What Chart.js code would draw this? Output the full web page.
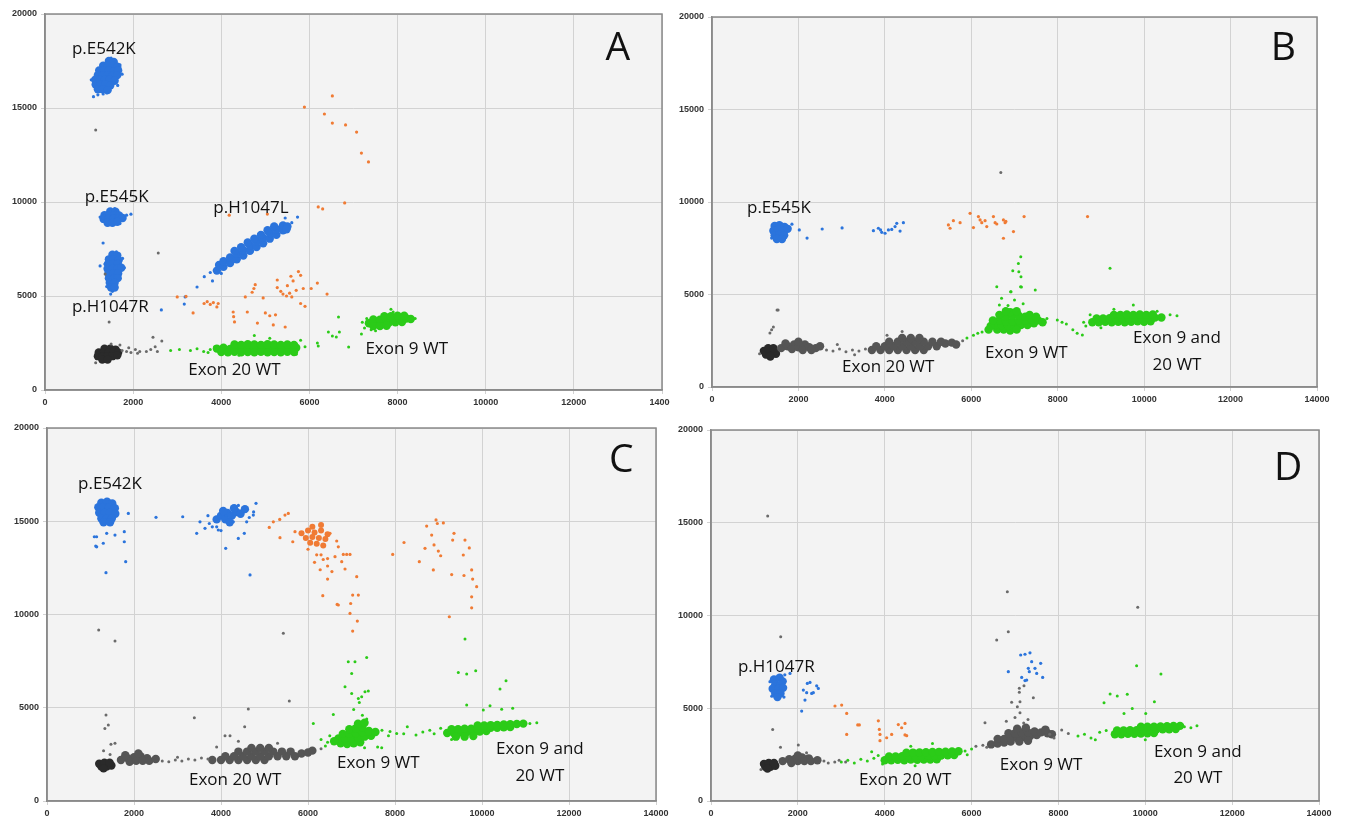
<!DOCTYPE html>
<html>
<head>
<meta charset="utf-8">
<script src="https://cdn.jsdelivr.net/npm/chart.js@4.4.1/dist/chart.umd.min.js"></script>
<style>
  body { margin: 0; background: #fff; }
  canvas { position: absolute; }
</style>
</head>
<body>
<canvas id="panelA" width="670" height="410" style="left:0;top:0"></canvas>
<canvas id="panelB" width="677" height="407" style="left:670px;top:0"></canvas>
<canvas id="panelC" width="670" height="406" style="left:0;top:415px"></canvas>
<canvas id="panelD" width="677" height="406" style="left:670px;top:415px"></canvas>
<script>
'use strict';

// axis ticks shared by all four panels
const xTicks = [0, 2000, 4000, 6000, 8000, 10000, 12000, 14000];
const yTicks = [0, 5000, 10000, 15000, 20000];

// ---------- panel A ----------
const aBlueCore = [
  [1450,17500],[1560,17450],[1320,17250],[1430,17250],[1540,17250],[1640,17200],[1230,17000],[1340,17000],[1450,17000],[1560,16950],[1660,17000],
  [1200,16750],[1310,16750],[1420,16750],[1530,16700],[1640,16750],[1140,16500],[1250,16500],[1360,16500],[1470,16500],[1580,16450],
  [1150,16250],[1260,16250],[1370,16250],[1480,16200],[1200,16000],[1310,16000],[1420,15950],
  [1480,9500],[1600,9480],[1350,9300],[1460,9300],[1570,9300],[1680,9280],[1330,9100],[1440,9100],[1550,9100],[1660,9100],[1760,9150],[1420,8900],[1530,8900],[1640,8950],
  [1530,7200],[1640,7150],[1450,6950],[1560,6950],[1670,6900],[1430,6700],[1540,6700],[1650,6700],[1420,6450],[1530,6450],[1640,6450],[1730,6500],
  [1440,6200],[1550,6200],[1660,6200],[1450,5950],[1560,5950],[1650,5950],[1470,5700],[1580,5700],[1500,5450],[1580,5450],
  [3900,6350],[3950,6650],[4050,6550],[4050,6850],[4200,6750],[4200,7050],[4350,6950],[4350,7250],[4300,7400],[4500,7150],[4500,7450],[4450,7600],
  [4650,7400],[4650,7700],[4600,7850],[4800,7600],[4800,7900],[4750,8050],[4950,7800],[4950,8100],[4900,8250],[5100,8050],[5100,8350],[5050,8500],
  [5250,8250],[5250,8550],[5200,8700],[5400,8500],[5400,8750],[5500,8700],[5480,8550]
];
const aBlue = [
  [1050,16500],[1750,16800],[1200,15700],[1400,15800],[1100,15600],[1700,17300],[1500,17650],[1320,15750],[1650,16200],
  [1250,9200],[1850,9300],[1950,9350],[1300,9000],[1700,8850],[1580,9650],
  [1318,7820],[1250,6600],[1490,5100],[1530,5250],[1760,7000],[1360,6700],[1800,6500],[1620,7350],[1400,5500],
  [3614,6030],[3450,5480],[3160,4570],[3180,4950],[2640,4260],[3800,5800],[5450,9150],[5730,9200],[5600,8900],[4000,6200],[3750,6250]
];
const aOrange = [
  [5886,15050],[6520,15640],[6340,14680],[6520,14200],[6820,14100],[7070,13720],[7180,12600],[7340,12130],[6800,9950],[6200,9740],[6300,9630],[4180,9300],[5045,9360],
  [3000,4950],[3200,4980],[3360,4100],[3610,4600],[3680,4700],[3750,4550],[3820,4650],[3930,4600],[3900,4420],
  [4270,4150],[4280,3900],[4300,3620],[4590,4150],[4545,4950],[4700,5200],[4770,5600],[4740,5400],
  [5000,4100],[5100,3950],[5230,4000],[5180,3460],[5270,5850],[5270,5450],[5350,5250],[5400,5100],[5480,5000],[5550,5150],[5600,4950],[5700,5300],
  [5580,6050],[5630,5800],[5750,6300],[5800,6100],[5860,5400],[5800,4600],[5900,4450],[6180,5690],[6040,5400],[6400,5100],[5450,3350],[4820,3560],[4950,4900],[5500,5550]
];
const aGrayDark = [
  [1350,2200],[1480,2200],[1600,2150],[1220,2000],[1330,2000],[1440,2000],[1550,2000],[1660,2000],[1200,1800],[1310,1800],[1420,1800],[1530,1800],[1640,1850],[1300,1620],[1420,1620]
];
const aGray = [
  [1750,2100],[1850,2050],[1950,2000],[2050,2150],[2150,2050],[2300,2050],[2400,2150],[2500,2300],[2550,2050],[2650,2600],[2450,2800],[1500,2450],[1700,2400],
  [1150,1450],[1150,13830],[1364,6170],[1455,3620],[2570,7290],[1900,2250],[2100,1950]
];
const aGreenCore = [
  [3900,2200],[4050,2250],[4200,2180],[4350,2220],[4500,2200],[4650,2250],[4800,2200],[4950,2230],[5100,2200],[5250,2240],[5400,2200],[5550,2220],[5700,2250],
  [4000,2020],[4150,2000],[4300,2030],[4450,2000],[4600,2020],[4750,2000],[4900,2030],[5050,2000],[5200,2020],[5350,2000],[5500,2030],[5650,2020],
  [4300,2420],[4450,2400],[4600,2430],[4750,2420],[4900,2400],[5050,2430],[5200,2420],[5350,2400],[5500,2420],[5650,2400],
  [7350,3550],[7500,3520],[7650,3560],[7800,3580],[7950,3600],[8100,3620],[7450,3750],[7600,3740],[7750,3760],[7900,3780],[8050,3800],[8200,3800],[8300,3780],
  [7700,3920],[7850,3930],[8000,3950],[8150,3950],[7450,3400],[7600,3400],[7750,3420]
];
const aGreen = [
  [2850,2100],[3050,2150],[3300,2100],[3450,2200],[3600,2050],[3750,2150],[3850,2300],[3700,2000],[4750,2900],[5100,2750],[5800,2650],[5900,2300],
  [6180,2500],[6200,2340],[6430,3090],[6610,2820],[6520,2870],[6680,3090],[6660,3880],[6890,2290],[7180,2980],[4400,1850],[5700,1900],
  [7200,3600],[7250,3300],[7400,3200],[7500,3150],[8400,3800],[7850,4300],[7900,4150],[7300,3800]
];

// ---------- panel B ----------
const bBlueCore = [
  [1450,8700],[1560,8750],[1680,8650],[1420,8450],[1530,8500],[1640,8450],[1750,8550],[1450,8200],[1560,8250],[1670,8200],[1500,8000],[1620,8000]
];
const bBlue = [
  [1850,8800],[1380,8050],[2020,8490],[2200,8050],[2550,8540],[3010,8600],
  [3735,8450],[3850,8580],[3928,8360],[4005,8310],[4082,8490],[4159,8520],[4236,8670],[4275,8850],[4352,8430],[4429,8880],[3900,8490]
];
const bOrange = [
  [5470,8760],[5509,8580],[5586,8990],[5741,8880],[5972,9390],[6050,8620],[6165,9210],[6204,9030],[6243,8880],[6319,8990],[6358,8670],
  [6512,9210],[6551,8880],[6590,8810],[6744,9030],[6782,8880],[6744,8040],[6976,8400],[7222,9210],[8690,9210],[6800,8950]
];
const bGrayDark = [
  [1250,1750],[1370,1750],[1480,1800],[1200,1950],[1320,1950],[1440,1950],[1300,2100],[1420,2100],[1350,1650]
];
const bGrayCore = [
  [1600,2100],[1750,2200],[1900,2300],[1850,2050],[2000,2150],[2150,2300],[2100,2000],[2250,2150],[2400,2100],[2500,2200],[1700,2350],[2000,2450],[2300,2000],
  [3700,2000],[3900,2000],[4100,2000],[4300,2000],[4500,2000],[4700,2000],[4900,2000],
  [3800,2200],[4000,2200],[4200,2200],[4400,2200],[4600,2200],[4800,2200],[5000,2200],[5200,2200],
  [4100,2450],[4300,2450],[4500,2450],[4700,2450],[4900,2450],[5100,2450],[5300,2450],[4400,2650],[4600,2650],[4800,2650],
  [5400,2350],[5550,2400],[5650,2300]
];
const bGray = [
  [2650,2000],[2800,1950],[2950,2050],[3100,1900],[3250,2000],[3400,1950],[3550,2050],
  [1340,2920],[1380,3100],[1420,3240],[1505,4160],[1530,4160],[6683,11590],[4400,3000],[4050,2800],[5800,2500],[3300,1750],[2900,2300],[1100,1800]
];
const bGreenCore = [
  [6600,3100],[6750,3100],[6900,3050],[6550,3350],[6700,3350],[6850,3300],[7000,3300],[7150,3350],[7300,3350],[7450,3450],[6650,3600],[6800,3550],
  [6950,3550],[7100,3600],[7250,3600],[7400,3650],[7550,3600],[6800,3800],[6950,3850],[7100,3850],[7250,3800],[6900,4050],[7050,4100],[6450,3300],[7050,3100],
  [6500,3600],[6650,3900],[6800,4100],[7350,3900],[7500,3800],[7650,3500],[6400,3100],
  [8800,3500],[8950,3500],[9100,3520],[9250,3500],[9400,3530],[9550,3500],[9700,3520],[9850,3550],[10000,3530],[10150,3550],
  [8900,3700],[9050,3700],[9200,3720],[9350,3700],[9500,3720],[9650,3700],[9800,3730],[9950,3720],[10100,3740],[10250,3750],[10400,3760],
  [9300,3900],[9450,3900],[9600,3920],[9750,3900],[9900,3920],[10050,3900],[10200,3920]
];
const bGreen = [
  [5900,2650],[6050,2800],[6150,2900],[6250,2970],[6350,3100],[6650,4430],[6590,5420],[6910,5150],[7145,7040],[7090,6680],[6960,6290],[7100,6230],
  [7150,5960],[7140,5420],[7160,5410],[7480,5240],[6920,5150],[7200,4500],[6850,4400],[7750,3700],[8100,3500],[9210,6420],[6700,4800],[7000,4700],
  [7990,3620],[8200,3400],[8350,3100],[8450,2900],[8570,2810],[8600,3500],[8650,3300],[8750,3900],[10600,3900],[10760,3850],[9750,4430],[9300,4200],[10300,4100],[9000,3200]
];

// ---------- panel C ----------
const cBlueCore = [
  [1250,16000],[1380,16050],[1500,15950],[1180,15750],[1300,15750],[1420,15750],[1560,15700],[1200,15450],[1320,15450],[1440,15450],[1570,15400],
  [1250,15150],[1370,15150],[1490,15150],[1300,14950],[1450,14950],
  [3900,15100],[4000,15300],[4100,15100],[4150,15450],[4250,15300],[4350,15500],[4450,15400],[4300,15700],[4550,15650],[4050,15550],[4200,14950]
];
const cBlue = [
  [1140,14170],[1120,13670],[1294,13820],[1372,14350],[1563,14260],[1777,14440],[1777,13900],[1870,15420],[1809,12830],[1356,12240],[1088,14170],[1142,13630],
  [2506,15210],[3120,15240],[3441,14350],[3517,14970],[3632,14620],[3731,14880],[3901,14700],[3938,14530],[4283,14970],[4590,14970],[4743,15330],[4805,15960],
  [4536,14350],[4398,14080],[4108,13550],[4667,12120],[3700,15300],[3800,14700],[4650,15200],[4750,15500],[4400,15850],[4000,14500]
];
const cOrangeCore = [
  [5850,14350],[6000,14500],[6150,14400],[6300,14500],[6450,14300],[5950,14100],[6100,14150],[6250,14100],[6400,14050],[6050,13850],[6200,13800],[6350,13700],[6100,14700],[6300,14800]
];
const cOrange = [
  [5110,14670],[5203,14970],[5350,15100],[5471,15330],[5547,15420],[5356,14120],[5701,14440],[5650,13900],[6000,13500],[6300,13200],[6450,13000],[6340,11010],[6670,10540],
  [6506,14350],[6660,13940],[6697,13630],[6621,13100],[6812,13220],[6889,13220],[6966,13220],[6775,12830],[6851,12440],[7120,12030],[6697,10510],[6981,10590],
  [7157,11040],[7027,11040],[6966,10060],[7134,9650],[7027,9110],[6200,13200],[6350,12950],[6450,12600],[6150,12800],[6280,12400],[6550,12300],[6450,11900],
  [7947,13220],[8207,13860],[8559,12830],[8690,13550],[8728,14740],[8843,14260],[8897,13730],[8881,12390],[8943,15070],[8973,14880],[8996,13400],[9050,13150],
  [9111,14910],[9249,9880],[9303,12140],[9326,13990],[9356,14350],[9570,13190],[9609,13990],[9586,12090],[9708,13570],[9762,12390],[9785,11900],[9877,11490],[9762,10950],[9762,10360]
];
const cGrayDark = [
  [1250,1850],[1370,1850],[1480,1900],[1200,2000],[1320,2050],[1440,2050],[1300,1750]
];
const cGrayCore = [
  [1700,2200],[1850,2300],[2000,2350],[2150,2400],[2300,2300],[1900,2100],[2050,2150],[2200,2150],[2350,2150],[2500,2250],[1800,2450],[2100,2550],
  [3800,2200],[4000,2200],[4200,2200],[4400,2200],[4600,2200],[4800,2200],[5000,2200],
  [4100,2400],[4300,2400],[4500,2400],[4700,2400],[4900,2400],[5100,2400],[5300,2400],[5500,2400],[5700,2400],
  [4400,2650],[4600,2650],[4800,2650],[5000,2650],[5200,2650],[5400,2650],[5600,2650],[4700,2850],[4900,2850],[5100,2850],
  [5850,2550],[6000,2600],[6100,2700]
];
const cGray = [
  [2650,2150],[2800,2100],[2950,2200],[3100,2150],[3250,2250],[3400,2200],[3550,2300],[3700,2250],[3000,2350],
  [1188,9170],[1563,8580],[5433,8990],[5570,5360],[4628,4930],[4544,3980],[3387,4470],[4092,3500],[4207,3500],[1356,4610],[1410,4070],[1330,3890],
  [1563,3090],[1470,3040],[1300,2700],[1450,2500],[3900,2900],[4400,3200],[5300,3100],[6300,2800]
];
const cGreenCore = [
  [6750,3100],[6900,3050],[7050,3100],[7200,3150],[6700,3350],[6850,3350],[7000,3350],[7150,3400],[7300,3450],[7450,3500],[6800,3600],[6950,3600],
  [7100,3650],[7250,3700],[7400,3750],[7550,3700],[6950,3850],[7100,3900],[7250,3950],[7150,4150],[7300,4200],[6600,3200],
  [9200,3650],[9350,3650],[9500,3680],[9650,3700],[9800,3700],[9950,3720],[10100,3750],
  [9300,3850],[9450,3850],[9600,3870],[9750,3880],[9900,3890],[10050,3900],[10200,3920],[10350,3930],[10500,3950],[10650,3970],
  [9900,4050],[10050,4050],[10200,4070],[10350,4080],[10500,4100],[10650,4120],[10800,4130],[10950,4150],[9400,3450],[9600,3450],[9800,3480]
];
const cGreen = [
  [6122,4160],[6582,4640],[6300,3300],[6450,3150],[6500,3500],[6400,2950],[6926,7470],[7080,7470],[7004,6840],[7349,7700],[6851,6130],[7004,5770],
  [7157,5500],[7234,5590],[7310,5860],[7387,5900],[7180,5280],[7050,4900],[7250,4600],[7350,4400],[7700,3800],[7850,3500],[7600,2900],[8200,3600],[7300,2850],
  [8640,3700],[8800,3800],[8900,3600],[9050,3900],[11100,4150],[11260,4200],[9648,5150],[10030,4880],[10184,5110],[10452,4920],[10705,4970],[10414,6000],
  [10552,6450],[9455,6890],[9648,6810],[9855,6990],[9609,8690],[8283,3980],[8483,3540],[8039,3620],[7885,3720],[7694,2860],[9300,3300]
];

// ---------- panel D ----------
const dBlueCore = [
  [1450,6550],[1580,6650],[1650,6450],[1480,6300],[1600,6250],[1420,6050],[1550,6050],[1660,6100],[1480,5800],[1600,5800],[1530,5600]
];
const dBlue = [
  [1358,6430],[1819,6880],[1700,6800],[2088,4850],[2126,5980],[2164,5440],[2203,5840],[2218,6340],[2280,6390],[2318,5800],[2356,5840],[2433,6210],[2471,6070],
  [1680,5600],[1400,5650],
  [7131,7870],[7230,7910],[7345,7990],[6846,6970],[7384,7510],[7591,7420],[7637,6660],[7154,6660],[7269,6520],[7330,6970],[7460,7150],[7500,6880],[7307,7150],[7230,6490]
];
const dOrange = [
  [2855,5120],[3009,5170],[3125,4720],[3125,3590],[3378,4100],[3416,4100],[3853,4320],[3876,3860],[3891,3590],[3891,3250],[4045,3410],[4160,3590],
  [4313,4120],[4390,3950],[4467,4180],[4467,3560],[4506,3520]
];
const dGrayDark = [
  [1250,1850],[1370,1850],[1480,1900],[1220,2000],[1330,2050],[1450,2050],[1300,1750]
];
const dGrayCore = [
  [1650,2150],[1800,2250],[1950,2300],[2100,2350],[2250,2300],[1850,2050],[2000,2150],[2150,2150],[2300,2150],[2450,2200],[2000,2450],
  [6450,3050],[6600,3100],[6750,3150],[6900,3200],[6600,3350],[6750,3350],[6900,3400],[7050,3400],[7200,3450],[7350,3500],[7500,3550],
  [6850,3650],[7000,3650],[7150,3700],[7300,3700],[7450,3750],[7600,3700],[7050,3900],[7250,3950],[7100,3200],[7300,3250],
  [7750,3650],[7850,3600],[7700,3850]
];
const dGray = [
  [2600,2150],[2700,2050],[2850,2100],[2950,2200],[3100,2100],
  [6260,3000],[6309,4220],[6350,2900],[6100,2950],[7800,3600],[8075,3830],[8228,3640],[7900,3400],[6923,5320],[7115,5350],[7054,5080],[7115,4760],
  [7422,5570],[7100,6080],[7100,5860],[7207,6210],[7000,4500],[7300,4400],[7200,4200],[6800,4300],[1306,15360],[1605,8860],[1420,3860],[2010,3020],
  [1600,2900],[6823,11280],[6579,8680],[6846,9120],[9826,10440],[1150,1700],[2200,2600]
];
const dGreenCore = [
  [4000,2200],[4150,2200],[4300,2220],[4450,2200],[4600,2230],[4750,2220],[4900,2240],[5050,2230],[5200,2250],
  [4100,2400],[4250,2400],[4400,2420],[4550,2410],[4700,2430],[4850,2420],[5000,2440],[5150,2450],[5300,2450],[5450,2470],[5600,2480],
  [4500,2600],[4650,2610],[4800,2620],[4950,2630],[5100,2640],[5250,2650],[5400,2660],[5550,2670],[5700,2680],
  [9300,3600],[9450,3600],[9600,3620],[9750,3620],[9900,3640],[10050,3650],[10200,3660],
  [9350,3800],[9500,3800],[9650,3810],[9800,3820],[9950,3830],[10100,3840],[10250,3850],[10400,3860],[10550,3870],[10700,3880],
  [9900,4000],[10050,4000],[10200,4010],[10350,4020],[10500,4030],[10650,4040],[10800,4050]
];
const dGreen = [
  [3000,2100],[3150,2200],[3300,2050],[3450,2250],[3600,2150],[3750,2300],[3850,2450],[3950,2000],[3700,2650],[5850,2700],[6000,2800],[5900,2500],
  [4600,2950],[5100,3100],[4700,1900],
  [8450,3500],[8600,3600],[8750,3400],[8850,3300],[8950,3700],[9100,3800],[10900,4000],[11050,3950],[11190,4050],[9800,7290],[10360,6850],[9190,5770],
  [9355,5660],[9585,5750],[9050,5300],[9700,4990],[10210,5350],[9510,4720],[10010,4720],[10000,3300]
];

// cluster labels, placed in data coordinates
const aNotes = [
  ['p.E542K', 610, 17850], ['p.E545K', 900, 10000], ['p.H1047L', 3820, 9400], ['p.H1047R', 610, 4150],
  ['Exon 20 WT', 3250, 800], ['Exon 9 WT', 7270, 1900]
];
const bNotes = [
  ['p.E545K', 810, 9400], ['Exon 20 WT', 3010, 810], ['Exon 9 WT', 6320, 1570]
];
const cNotes = [
  ['p.E542K', 713, 16730], ['Exon 20 WT', 3264, 860], ['Exon 9 WT', 6667, 1770]
];
const dNotes = [
  ['p.H1047R', 620, 6950], ['Exon 20 WT', 3410, 860], ['Exon 9 WT', 6650, 1670]
];
const bothWt = { b: [10760, 2380, 920], c: [11330, 2500, 1070], d: [11210, 2390, 970] };
const letters = { A: [13000, 17550], B: [13220, 17680], C: [13200, 17640], D: [13290, 17300] };

const BLUE = '#2b74dc';
const ORANGE = '#f07b34';
const GREEN = '#2bcb18';

const panelPlugin = {
  id: 'panel',
  beforeDraw(chart) {
    const { ctx, chartArea: a } = chart;
    ctx.save();
    ctx.fillStyle = '#f3f3f3';
    ctx.fillRect(a.left, a.top, a.width, a.height);
    ctx.restore();
  },
  afterDraw(chart) {
    const { ctx, chartArea: a, scales } = chart;
    const opt = chart.options.plugins.panel;
    ctx.save();
    ctx.strokeStyle = '#8a8a8a';
    ctx.lineWidth = 1.5;
    ctx.strokeRect(a.left, a.top, a.width, a.height);
    ctx.fillStyle = '#111';
    ctx.textBaseline = 'alphabetic';
    ctx.font = '17px "Open Sans"';
    ctx.textAlign = 'left';
    opt.notes.forEach(n => {
      ctx.fillText(n[0], scales.x.getPixelForValue(n[1]), scales.y.getPixelForValue(n[2]));
    });
    if (opt.both) {
      ctx.textAlign = 'center';
      const px = scales.x.getPixelForValue(opt.both[0]);
      ctx.fillText('Exon 9 and', px, scales.y.getPixelForValue(opt.both[1]));
      ctx.fillText('20 WT', px, scales.y.getPixelForValue(opt.both[2]));
    }
    ctx.textAlign = 'center';
    ctx.font = '39px "Open Sans"';
    const L = letters[opt.letter];
    ctx.fillText(opt.letter, scales.x.getPixelForValue(L[0]), scales.y.getPixelForValue(L[1]));
    ctx.restore();
  }
};

function set(pts, color, r) {
  return {
    data: pts.map(p => ({ x: p[0], y: p[1] })),
    backgroundColor: color,
    pointBackgroundColor: color,
    pointBorderWidth: 0,
    pointRadius: r,
    pointHoverRadius: r
  };
}

function drawPanel(id, sets, box, notes, letter, both) {
  const tickFont = { family: '"Liberation Sans", Arial', size: 9, weight: 'bold' };
  new Chart(document.getElementById(id), {
    type: 'scatter',
    data: { datasets: sets },
    options: {
      responsive: false,
      animation: false,
      layout: { padding: { top: box.top, right: box.right, left: 0, bottom: 0 } },
      plugins: {
        legend: { display: false },
        tooltip: { enabled: false },
        panel: { notes: notes, letter: letter, both: both }
      },
      scales: {
        x: {
          type: 'linear', min: 0, max: 14000,
          afterBuildTicks: s => { s.ticks = xTicks.map(v => ({ value: v })); },
          afterFit: s => { s.height = 20; s.paddingLeft = 0; s.paddingRight = 0; },
          ticks: { font: tickFont, color: '#333', maxRotation: 0, padding: 3, callback: v => String(v) },
          grid: { color: '#d2d2d2', tickLength: 4 },
          border: { color: '#8a8a8a', width: 1.5 }
        },
        y: {
          min: 0, max: 20000,
          afterBuildTicks: s => { s.ticks = yTicks.map(v => ({ value: v })); },
          afterFit: s => { s.width = box.yw; s.paddingTop = 0; s.paddingBottom = 0; },
          ticks: { font: tickFont, color: '#333', padding: 4, callback: v => String(v) },
          grid: { color: '#d2d2d2', tickLength: 4 },
          border: { color: '#8a8a8a', width: 1.5 }
        }
      }
    },
    plugins: [panelPlugin]
  });
}

const grayDark = '#2a2a2a';
const grayCore = '#555555';
const graySparse = '#6a6a6a';
const CORE = 4.2;

drawPanel('panelA', [
  set(aGray, graySparse, 1.5), set(aGrayDark, grayDark, CORE),
  set(aGreen, GREEN, 1.5), set(aGreenCore, GREEN, CORE),
  set(aOrange, ORANGE, 1.6),
  set(aBlue, BLUE, 1.6), set(aBlueCore, BLUE, CORE)
], { top: 14, right: 8, yw: 45 }, aNotes, 'A', null);

drawPanel('panelB', [
  set(bGray, graySparse, 1.5), set(bGrayCore, grayCore, CORE), set(bGrayDark, grayDark, CORE),
  set(bGreen, GREEN, 1.5), set(bGreenCore, GREEN, CORE),
  set(bOrange, ORANGE, 1.6),
  set(bBlue, BLUE, 1.6), set(bBlueCore, BLUE, CORE)
], { top: 17, right: 30, yw: 42 }, bNotes, 'B', bothWt.b);

drawPanel('panelC', [
  set(cGray, graySparse, 1.5), set(cGrayCore, grayCore, CORE), set(cGrayDark, grayDark, CORE),
  set(cGreen, GREEN, 1.5), set(cGreenCore, GREEN, CORE),
  set(cOrange, ORANGE, 1.6), set(cOrangeCore, ORANGE, 3),
  set(cBlue, BLUE, 1.6), set(cBlueCore, BLUE, CORE)
], { top: 13, right: 14, yw: 47 }, cNotes, 'C', bothWt.c);

drawPanel('panelD', [
  set(dGray, graySparse, 1.5), set(dGrayCore, grayCore, CORE), set(dGrayDark, grayDark, CORE),
  set(dGreen, GREEN, 1.5), set(dGreenCore, GREEN, CORE),
  set(dOrange, ORANGE, 1.6),
  set(dBlue, BLUE, 1.6), set(dBlueCore, BLUE, CORE)
], { top: 15, right: 28, yw: 41 }, dNotes, 'D', bothWt.d);
</script>
</body>
</html>
